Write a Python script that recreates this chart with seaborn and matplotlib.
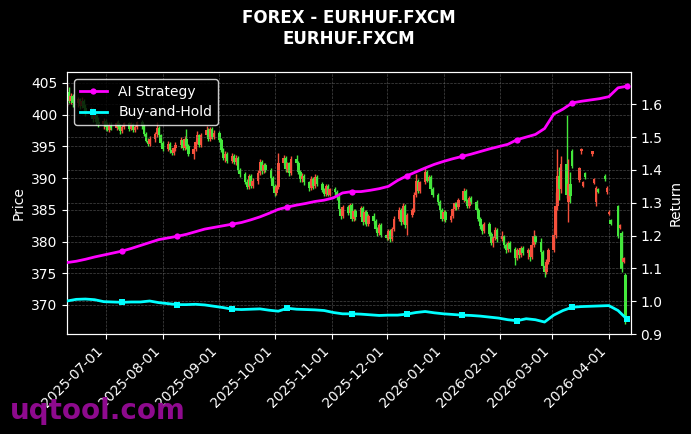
import pandas as pd
import matplotlib
matplotlib.use('Agg')
import matplotlib.pyplot as plt
import matplotlib.dates as mdates
import seaborn as sns

# daily EURHUF candles (business days 2025-06-10 .. 2026-04-10), None = no data
opens = [
    402.0, 403.6, 402.2, 402.9,
    401.8, 402.4, 401.3, 402.2, 401.0,
    400.4, 400.8, 399.3, 400.0, 398.8,
    398.5, 399.0, 398.0, 397.6, 398.4,
    397.9, 398.7, 398.1, 397.4, 398.0,
    398.6, 397.8, 398.5, 397.6, 398.1,
    398.8, 398.2, 396.9, 395.9, 395.4,
    396.2, 396.9, 397.9, 396.8, 395.5,
    394.6, 395.4, 394.4, 393.9, 394.7,
    395.2, 396.0, 394.7, 396.1, 395.0,
    393.8, 394.6, 395.7, 396.8, 395.2,
    396.8, 397.6, 396.2, 397.7, 396.5,
    397.1, 396.0, 394.4, 393.1, 393.8,
    392.7, 393.5, 392.5, 393.2, 391.3,
    390.6, 389.4, 388.6, 390.3, 388.8,
    389.6, 390.8, 392.6, 391.1, 392.0,
    391.3, 390.0, 388.7, 387.6, 388.6,
    392.4, 393.2, 391.4, 392.3, 390.8,
    393.0, 392.4, 391.0, 389.8, 390.4,
    389.3, 388.4, 389.9, 388.7, 390.2,
    389.0, 388.1, 387.5, 388.7, 387.4,
    388.2, 387.8, 387.0, 385.2, 384.0,
    385.5, 384.5, 385.8, 383.6, 384.8,
    383.8, 385.3, 383.0, 384.6, 382.8,
    384.0, 383.2, 382.0, 381.3, 382.6,
    381.0, 380.6, 381.6, 380.4, 382.0,
    383.6, 385.0, 383.0, 385.6, 382.6,
    384.2, 385.0, 387.4, 389.6, 388.0,
    389.3, 391.0, 389.6, 390.2, 388.3,
    387.4, 386.2, 385.0, 383.6, 384.6,
    383.4, 384.0, 385.2, 386.0, 385.4,
    386.6, 388.0, 386.4, 385.6, 386.8,
    386.2, 385.0, 383.6, 382.4, 381.6,
    382.8, 381.2, 379.8, 380.6, 381.8,
    380.4, 380.8, 379.4, 378.6, 379.8,
    378.8, 377.4, 378.6, 377.8, 379.0,
    378.2, 378.6, 377.6, 379.4, 380.8,
    380.0, 378.4, 376.2, 375.2, 376.8,
    378.6, 381.0, 385.6, 390.4, 388.2,
    392.2, 386.2, 389.0, 394.2, None,
    389.7, 394.3, 388.8, 390.8, None,
    393.8, 389.2, 386.2, 388.3, None,
    390.3, 387.8, 384.3, 383.4, None,
    385.6, 382.2, 381.4, 376.8, 374.8,
]
highs = [
    404.8, 404.4, 403.4, 403.2,
    402.8, 402.6, 402.7, 402.5, 401.6,
    401.2, 401.0, 400.5, 400.3, 399.6,
    399.4, 399.3, 398.9, 398.8, 398.9,
    399.0, 399.1, 398.5, 398.4, 398.9,
    398.9, 398.8, 398.7, 398.4, 399.0,
    399.2, 398.5, 397.2, 396.3, 396.6,
    397.2, 398.8, 398.2, 397.0, 395.9,
    395.8, 395.7, 394.8, 395.0, 395.6,
    396.4, 396.2, 396.6, 397.7, 395.4,
    395.0, 396.0, 397.4, 397.0, 397.1,
    398.2, 397.9, 398.0, 398.0, 397.6,
    397.4, 396.3, 394.7, 394.2, 394.1,
    393.9, 393.8, 393.6, 393.5, 391.6,
    390.9, 389.8, 390.6, 390.6, 390.0,
    391.2, 393.0, 392.9, 392.3, 392.3,
    391.6, 390.3, 389.0, 388.9, 394.0,
    393.6, 393.5, 392.6, 392.6, 393.4,
    393.6, 392.7, 391.3, 390.8, 390.7,
    389.6, 390.3, 390.2, 390.6, 390.5,
    389.3, 388.4, 389.0, 389.0, 388.5,
    388.6, 388.1, 387.3, 385.5, 385.8,
    385.8, 386.1, 386.1, 385.1, 385.1,
    385.6, 385.6, 384.9, 384.9, 384.3,
    384.5, 383.5, 382.3, 382.9, 382.9,
    381.3, 381.9, 381.9, 382.3, 384.0,
    385.4, 385.3, 386.0, 385.9, 384.5,
    385.3, 387.8, 390.6, 389.9, 389.6,
    391.7, 391.3, 390.5, 390.5, 388.6,
    387.7, 386.5, 385.3, 384.9, 384.9,
    384.3, 385.5, 386.3, 386.3, 386.9,
    388.4, 388.3, 386.7, 387.1, 387.1,
    386.5, 385.3, 383.9, 382.7, 383.1,
    383.1, 381.5, 380.9, 382.3, 382.1,
    381.6, 381.1, 379.7, 380.1, 380.1,
    379.1, 378.9, 378.9, 379.3, 379.3,
    378.9, 378.9, 379.7, 381.8, 381.1,
    380.6, 378.7, 376.5, 377.2, 379.0,
    382.2, 387.8, 394.6, 391.8, 393.5,
    400.0, 393.0, 391.0, 394.6, None,
    391.8, 394.8, 389.6, 391.0, None,
    394.3, 390.0, 388.8, 388.5, None,
    390.6, 388.8, 384.9, 383.6, None,
    385.8, 382.8, 381.6, 377.6, 375.0,
]
lows = [
    401.4, 401.8, 401.6, 401.2,
    401.2, 400.8, 401.0, 400.6, 399.8,
    399.6, 398.8, 399.0, 398.4, 398.0,
    397.8, 397.6, 397.4, 397.2, 397.5,
    397.6, 397.8, 397.0, 397.1, 397.7,
    397.4, 397.5, 397.2, 397.3, 397.8,
    397.8, 396.6, 395.6, 395.0, 395.0,
    395.6, 396.5, 396.4, 395.2, 394.2,
    394.2, 394.0, 393.6, 393.6, 394.3,
    394.8, 394.4, 394.4, 394.6, 393.4,
    393.0, 394.2, 395.3, 394.9, 394.9,
    396.4, 395.9, 395.8, 396.2, 396.1,
    395.6, 394.1, 392.8, 392.6, 392.4,
    392.3, 392.2, 392.1, 390.9, 390.2,
    389.0, 388.2, 388.3, 388.4, 388.4,
    389.0, 390.5, 390.7, 390.8, 390.9,
    389.6, 388.4, 387.2, 387.3, 388.2,
    392.0, 391.0, 391.0, 390.4, 390.5,
    392.0, 390.6, 389.4, 389.4, 388.9,
    388.0, 388.1, 388.3, 388.4, 388.7,
    387.8, 387.2, 387.2, 387.1, 387.1,
    387.4, 386.6, 384.9, 383.6, 383.7,
    384.2, 384.2, 383.2, 383.3, 383.4,
    383.5, 382.6, 382.7, 382.4, 382.5,
    382.8, 381.6, 380.9, 381.0, 380.7,
    380.2, 380.3, 380.0, 380.1, 381.7,
    383.3, 382.6, 382.7, 382.2, 381.0,
    383.8, 384.7, 387.0, 387.7, 387.6,
    389.0, 389.3, 389.3, 388.0, 387.0,
    385.8, 384.7, 383.2, 383.3, 383.0,
    383.1, 383.7, 384.9, 385.0, 385.1,
    386.3, 386.1, 385.3, 385.3, 385.9,
    384.6, 383.2, 382.0, 381.2, 381.3,
    380.8, 379.4, 379.2, 380.3, 380.0,
    380.1, 379.0, 378.2, 378.3, 378.4,
    376.3, 377.1, 377.4, 377.5, 377.8,
    377.3, 377.0, 377.3, 379.1, 379.6,
    378.0, 375.8, 374.4, 374.9, 376.5,
    378.4, 380.6, 385.0, 386.5, 387.6,
    386.8, 383.0, 386.0, 391.6, None,
    389.4, 393.8, 388.6, 389.8, None,
    393.4, 389.0, 385.6, 387.6, None,
    389.6, 387.5, 384.1, 382.6, None,
    380.6, 382.0, 375.2, 376.6, 367.0,
]
closes = [
    403.6, 402.2, 402.9, 401.8,
    402.4, 401.3, 402.2, 401.0, 400.4,
    400.8, 399.3, 400.0, 398.8, 398.5,
    399.0, 398.0, 397.6, 398.4, 397.9,
    398.7, 398.1, 397.4, 398.0, 398.6,
    397.8, 398.5, 397.6, 398.1, 398.8,
    398.2, 396.9, 395.9, 395.4, 396.2,
    396.9, 397.9, 396.8, 395.5, 394.6,
    395.4, 394.4, 393.9, 394.7, 395.2,
    396.0, 394.7, 396.1, 395.0, 393.8,
    394.6, 395.7, 396.8, 395.2, 396.8,
    397.6, 396.2, 397.7, 396.5, 397.1,
    396.0, 394.4, 393.1, 393.8, 392.7,
    393.5, 392.5, 393.2, 391.3, 390.6,
    389.4, 388.6, 390.3, 388.8, 389.6,
    390.8, 392.6, 391.1, 392.0, 391.3,
    390.0, 388.7, 387.6, 388.6, 392.4,
    393.2, 391.4, 392.3, 390.8, 393.0,
    392.4, 391.0, 389.8, 390.4, 389.3,
    388.4, 389.9, 388.7, 390.2, 389.0,
    388.1, 387.5, 388.7, 387.4, 388.2,
    387.8, 387.0, 385.2, 384.0, 385.5,
    384.5, 385.8, 383.6, 384.8, 383.8,
    385.3, 383.0, 384.6, 382.8, 384.0,
    383.2, 382.0, 381.3, 382.6, 381.0,
    380.6, 381.6, 380.4, 382.0, 383.6,
    385.0, 383.0, 385.6, 382.6, 384.2,
    385.0, 387.4, 389.6, 388.0, 389.3,
    391.0, 389.6, 390.2, 388.3, 387.4,
    386.2, 385.0, 383.6, 384.6, 383.4,
    384.0, 385.2, 386.0, 385.4, 386.6,
    388.0, 386.4, 385.6, 386.8, 386.2,
    385.0, 383.6, 382.4, 381.6, 382.8,
    381.2, 379.8, 380.6, 381.8, 380.4,
    380.8, 379.4, 378.6, 379.8, 378.8,
    377.4, 378.6, 377.8, 379.0, 378.2,
    378.6, 377.6, 379.4, 380.8, 380.0,
    378.4, 376.2, 375.2, 376.8, 378.6,
    381.0, 385.6, 390.4, 388.2, 392.2,
    387.4, 389.0, 387.2, 391.9, None,
    391.6, 394.6, 389.4, 390.2, None,
    394.2, 389.8, 388.4, 387.8, None,
    389.9, 388.4, 384.7, 382.8, None,
    380.8, 382.6, 375.6, 377.4, 367.4,
]

# cumulative returns, sampled every 5 days from 2025-06-10
ai_return = [
    1.118, 1.122, 1.128, 1.135, 1.141, 1.147, 1.153, 1.161, 1.170, 1.179,
    1.188, 1.193, 1.198, 1.204, 1.212, 1.220, 1.225, 1.230, 1.235, 1.240,
    1.248, 1.257, 1.268, 1.280, 1.287, 1.293, 1.298, 1.304, 1.308, 1.315,
    1.330, 1.334, 1.334, 1.338, 1.343, 1.350, 1.368, 1.382, 1.394, 1.406,
    1.417, 1.426, 1.434, 1.441, 1.448, 1.456, 1.464, 1.471, 1.478, 1.492,
    1.500, 1.508, 1.526, 1.570, 1.585, 1.604, 1.609, 1.613, 1.617, 1.623,
    1.650, 1.655,
]
bh_return = [
    1.001, 1.006, 1.007, 1.005, 0.999, 0.998, 0.997, 0.998, 0.998, 1.001,
    0.996, 0.993, 0.990, 0.990, 0.991, 0.989, 0.985, 0.981, 0.976, 0.975,
    0.976, 0.977, 0.973, 0.970, 0.979, 0.976, 0.975, 0.974, 0.972, 0.966,
    0.962, 0.962, 0.961, 0.959, 0.957, 0.958, 0.958, 0.961, 0.966, 0.969,
    0.965, 0.962, 0.960, 0.958, 0.957, 0.955, 0.952, 0.949, 0.944, 0.941,
    0.947, 0.944, 0.937, 0.958, 0.972, 0.982, 0.984, 0.985, 0.986, 0.987,
    0.972, 0.945,
]
mark_idx = [6, 12, 18, 24, 31, 37, 43, 49, 55, 61]

df = pd.DataFrame({
    'date': pd.bdate_range('2025-06-10', '2026-04-10'),
    'open': opens, 'high': highs, 'low': lows, 'close': closes,
}).dropna()
ret_dates = pd.date_range('2025-06-10', periods=len(ai_return), freq='5D')

plt.style.use('dark_background')
fig, ax = plt.subplots(figsize=(6.91, 4.34), dpi=100)
fig.subplots_adjust(left=0.097, right=0.913, top=0.834, bottom=0.230)

# candlesticks: red up, green down
up = df['close'] >= df['open']
colors = ['#f5503c' if u else '#44e83c' for u in up]
ax.vlines(df['date'], df['low'], df['high'], colors=colors, linewidth=1.0, zorder=2)
body_low = df[['open', 'close']].min(axis=1)
body_h = (df['close'] - df['open']).abs().clip(lower=0.3)
ax.bar(df['date'], body_h, bottom=body_low, width=1.4, color=colors, zorder=2)

ax.set_ylim(365.4, 406.7)
ax.set_yticks(range(370, 406, 5))
ax.set_xlim(pd.Timestamp('2025-06-10'), pd.Timestamp('2026-04-13'))
ax.set_ylabel('Price', fontsize=10)
ax.grid(True, linestyle='--', linewidth=0.5, color='#777777', alpha=0.6)
ax.set_axisbelow(True)
ax.xaxis.set_major_locator(mdates.MonthLocator())
ax.xaxis.set_major_formatter(mdates.DateFormatter('%Y-%m-%d'))
plt.setp(ax.get_xticklabels(), rotation=45, ha='right')

ax2 = ax.twinx()
sns.lineplot(x=ret_dates, y=ai_return, ax=ax2, color='#ff00ff', linewidth=2,
             marker='o', markersize=4.5, markeredgewidth=0, markevery=mark_idx,
             label='AI Strategy', zorder=5)
sns.lineplot(x=ret_dates, y=bh_return, ax=ax2, color='#00ffff', linewidth=2,
             marker='s', markersize=4.5, markeredgewidth=0, markevery=mark_idx,
             label='Buy-and-Hold', zorder=5)
ax2.set_ylim(0.9, 1.698)
ax2.set_yticks([0.9, 1.0, 1.1, 1.2, 1.3, 1.4, 1.5, 1.6])
ax2.set_ylabel('Return', fontsize=10)
ax2.grid(True, linestyle='--', linewidth=0.5, color='#777777', alpha=0.6)
ax2.legend(loc='upper left', facecolor='black', edgecolor='white', fontsize=10)

ax.set_title('FOREX - EURHUF.FXCM\nEURHUF.FXCM', fontsize=12, fontweight='bold', pad=20)

fig.text(0.014, 0.035, 'uqtool.com', fontsize=20, fontweight='bold',
         color='#8e0a8e', zorder=10)

fig.savefig('out.png', dpi=100, facecolor='black')
